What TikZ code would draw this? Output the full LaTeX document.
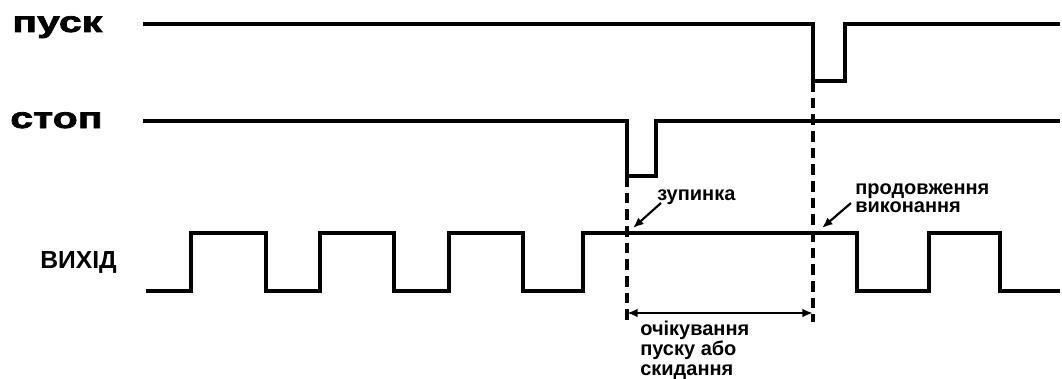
\documentclass[tikz,border=0pt]{standalone}
\usepackage{fontspec}
\usetikzlibrary{arrows.meta}
\setmainfont{Liberation Sans}
\newfontfamily\heavyfont[FakeStretch=1.4,FakeBold=2.5]{Liberation Sans}
\begin{document}
\begin{tikzpicture}[x=0.75pt, y=-0.75pt,
        sig/.style={line width=2.4pt},
        outsig/.style={line width=3pt},
        guide/.style={line width=2.3pt, dash pattern=on 8pt off 4.5pt},
        pointer/.style={line width=1.6pt, -{Latex[length=8pt, width=6.5pt]}},
        note/.style={font=\bfseries\fontsize{15}{13.5}\selectfont, align=left, inner sep=0pt},
        heavy/.style={font=\heavyfont\bfseries\fontsize{22}{22}\selectfont, inner sep=0pt}]
    \useasboundingbox (0,0) rectangle (1062,378);
    % signal names
    \node(start) at (12,32)  [anchor=base west, heavy] {пуск};
    \node(stop)  at (10,128) [anchor=base west, heavy] {стоп};
    \node(out)   at (40,268) [anchor=base west, inner sep=0pt, font=\bfseries\fontsize{18.5}{18.5}\selectfont] {ВИХІД};
    % waveforms
    \draw[sig] (143,24) -- (813,24) -- (813,81) -- (845,81) -- (845,24) -- (1060,24);
    \draw[sig] (143,121) -- (627,121) -- (627,176) -- (656,176) -- (656,121) -- (1060,121);
    \draw[outsig] (146,291) -| (191,233) -| (266,291) -| (320,233) -| (394,291)
        -| (449,233) -| (523,291) -| (583,233) -| (857,291) -| (929,233) -| (1000,291) -- (1060,291);
    % markers
    \coordinate(stopdip)  at (627,176);
    \coordinate(startdip) at (813,81);
    \coordinate(waitl)    at (627,322);
    \coordinate(waitr)    at (813,322);
    \draw[guide] (stopdip) -- (waitl);
    \draw[guide] (startdip) -- (waitr);
    \draw[pointer, {Latex[length=8pt, width=6.5pt]}-{Latex[length=8pt, width=6.5pt]}] (627,313) -- (813,313);
    \node(wait)   at (640,375) [anchor=base west, note, font=\bfseries\fontsize{15}{15}\selectfont] {очікування\\пуску або\\скидання};
    \node(halt)   at (657,200) [anchor=base west, note] {зупинка};
    \node(resume) at (855,212) [anchor=base west, note] {продовження\\виконання};
    \coordinate(haltpt)   at (633,228);
    \coordinate(resumept) at (822,228);
    \draw[pointer] (661,203) -- (haltpt);
    \draw[pointer] (851,203) -- (resumept);
\end{tikzpicture}
\end{document}
